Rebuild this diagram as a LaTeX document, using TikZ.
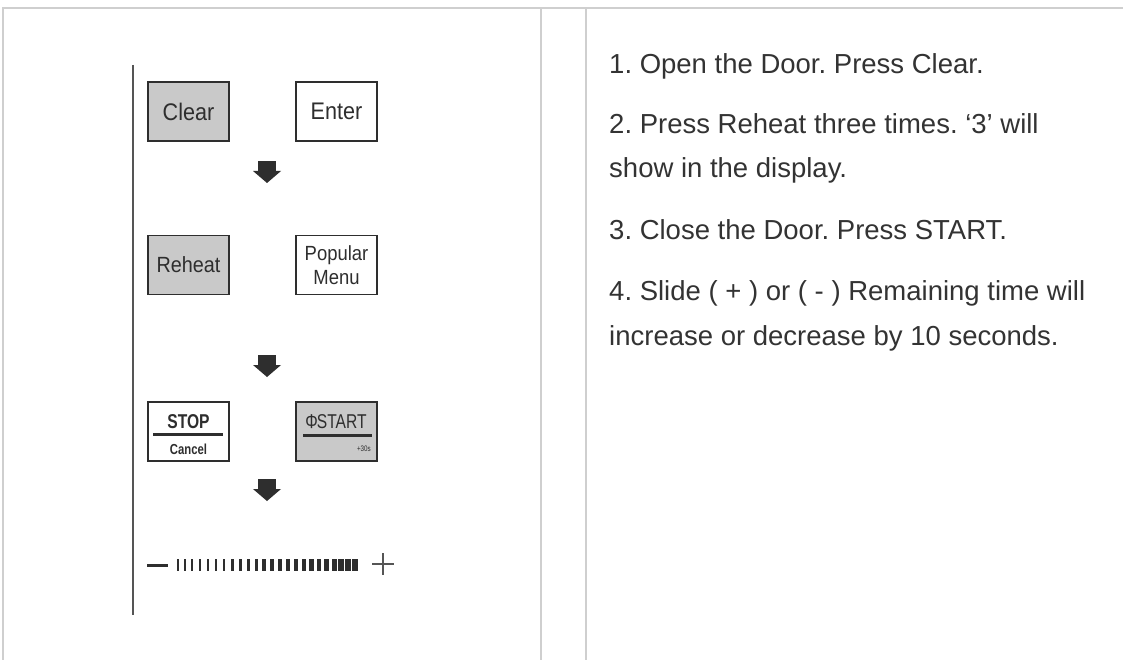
\documentclass[tikz,border=0pt]{standalone}
\usepackage{fontspec}
\setmainfont{Liberation Sans}
\newfontfamily\condfont[FakeStretch=0.9]{Liberation Sans}
\newfontfamily\narrowfont[FakeStretch=0.78]{Liberation Sans}
\definecolor{frameline}{HTML}{CFCFCF}
\definecolor{ink}{HTML}{333333}
\definecolor{keyink}{HTML}{2E2E2E}
\definecolor{keyfill}{HTML}{C9C9C9}
\definecolor{rule}{HTML}{555555}
\tikzset{
  framestroke/.style={draw=frameline, line width=1.6pt},
  key/.style={draw=keyink, line width=1.4pt, minimum width=81pt, minimum height=59pt, inner sep=0pt, text=keyink},
  grey key/.style={key, fill=keyfill},
  keytext/.style={inner sep=0pt, text=keyink},
  para/.style={anchor=base west, inner sep=0pt, text=ink, font=\frenchspacing\fontsize{27.5}{44}\selectfont},
  downarrow/.pic={\fill[keyink] (-9,0) rectangle (9,10); \fill[keyink] (-14,10) -- (14,10) -- (0,22) -- cycle;}
}
\begin{document}
\begin{tikzpicture}[x=1pt,y=-1pt]
\useasboundingbox (0,0) rectangle (1123,660);
\fill[white] (0,0) rectangle (1123,660);
% table frame
\draw[framestroke] (3,660) -- (3,8) -- (1123,8);
\draw[framestroke] (541,8) -- (541,660);
\draw[framestroke] (586,8) -- (586,660);
% left rule
\draw[draw=rule, line width=1.8pt] (133,65) -- (133,615);
% keys
\node[grey key, font=\condfont\fontsize{24}{24}\selectfont] (clear) at (188.5,111.5) {Clear};
\node[key, font=\condfont\fontsize{24}{24}\selectfont] (enter) at (336.5,111.5) {Enter};
\node[grey key, font=\condfont\fontsize{22}{22}\selectfont] (reheat) at (188.5,265) {Reheat};
\node[key, align=center, font=\condfont\fontsize{20.5}{24}\selectfont] (popular) at (336.5,265) {Popular\\Menu};
\node[key] (stop) at (188.5,431.5) {};
\node[grey key] (start) at (336.5,431.5) {};
% STOP / Cancel
\node[keytext, anchor=base, font=\narrowfont\bfseries\fontsize{20}{20}\selectfont] (stoptxt) at (188.5,428) {STOP};
\draw[draw=keyink, line width=3pt] (153,434) -- (223,434);
\node[keytext, anchor=base, font=\narrowfont\bfseries\fontsize{14.5}{14.5}\selectfont] (canceltxt) at (188.5,454) {Cancel};
% START / +30s
\node[keytext, anchor=base, font=\narrowfont\fontsize{20}{20}\selectfont] (starttxt) at (336,428) {Φ\hspace{-1pt}START};
\draw[draw=keyink, line width=3pt] (303,435) -- (372,435);
\node[keytext, anchor=base east, font=\narrowfont\fontsize{8}{8}\selectfont] (plus30) at (371,451) {+30s};
% arrows
\pic at (267,161) {downarrow};
\pic at (267,355) {downarrow};
\pic at (267,479) {downarrow};
% slider
\draw[draw=keyink, line width=3pt] (147,565) -- (168,565);
\foreach \x/\w in {178/1.1,185/1.1,192/1.1,200/2.4,208/2.6,216/2.8,224/2.8,232/3,240/3,248/3,256/3,264/3.2,272/3.2,280/3.4,288/3.4,296/3.6,304/3.8,311.5/4.2,319/4.5,326.5/4.8,334/5,341/5.2,348/5.2,355/5.4}
  \draw[draw=keyink, line width=\w pt] (\x,559) -- (\x,571);
\draw[draw=rule, line width=1.3pt] (372,564) -- (394,564) (383,553) -- (383,575);
% instructions
\node[para] (t1) at (609,74) {1. Open the Door. Press Clear.};
\node[para] (t2) at (609,134) {2. Press Reheat three times. ‘3’ will};
\node[para] (t3) at (609,178) {show in the display.};
\node[para] (t4) at (609,240) {3. Close the Door. Press START.};
\node[para] (t5) at (609,300) {4. Slide ( + ) or ( - ) Remaining time will};
\node[para] (t6) at (609,345) {increase or decrease by 10 seconds.};
\end{tikzpicture}
\end{document}
